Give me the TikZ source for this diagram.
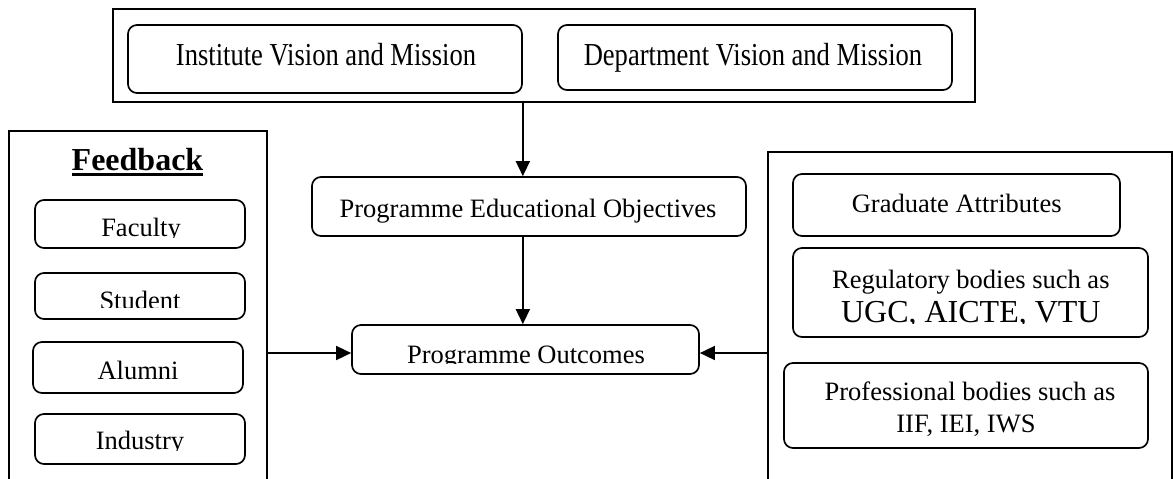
\documentclass[tikz,border=0pt]{standalone}
\usepackage{fontspec}
\setmainfont{Liberation Serif}
\usepackage{graphicx}
\usetikzlibrary{arrows.meta}
\tikzset{
  frame/.style={draw, line width=1.8pt, inner sep=0pt},
  rbox/.style={draw, line width=1.7pt, rounded corners=9pt, inner sep=0pt},
  txt/.style={inner sep=0pt, anchor=base, font=\fontsize{26.5}{32}\selectfont},
  bigtxt/.style={inner sep=0pt, anchor=base, font=\fontsize{32}{38}\selectfont},
  boldtxt/.style={inner sep=0pt, anchor=base, font=\fontsize{32}{38}\selectfont\bfseries},
  arr/.style={line width=1.6pt, -{Triangle[length=15pt,width=14pt]}},
}
\begin{document}
\begin{tikzpicture}[x=1pt,y=-1pt]
\clip (0,0) rectangle (1173,479);
\fill[white] (0,0) rectangle (1173,479);

% top frame
\node[frame, minimum width=862pt, minimum height=93pt] (topframe) at (544,55.5) {};
\node[rbox, minimum width=394pt, minimum height=68pt] (inst) at (325,59) {};
\node[rbox, minimum width=394pt, minimum height=65pt] (dept) at (755,57.5) {};
\node[bigtxt] (inst-t) at (326,65) {\scalebox{0.83}[1]{Institute Vision and Mission}};
\node[bigtxt] (dept-t) at (753,65) {\scalebox{0.83}[1]{Department Vision and Mission}};

% central boxes
\node[rbox, minimum width=434pt, minimum height=59pt] (peo) at (529,206.5) {};
\node[txt] (peo-t) at (528,217) {Programme Educational Objectives};
\node[rbox, minimum width=347pt, minimum height=49pt] (po) at (525.5,349.5) {};
\begin{scope}
  \clip (300,363.5) rectangle (750,320);
  \node[txt] (po-t) at (526,363) {Programme Outcomes};
\end{scope}

% left frame
\node[frame, minimum width=258pt, minimum height=369pt] (leftframe) at (138,315.5) {};
\node[boldtxt] (fb) at (137.5,170) {Feedback};
\draw[line width=2.2pt] ([yshift=-4.5pt]fb.base west) -- ([yshift=-4.5pt]fb.base east);

\node[rbox, minimum width=210pt, minimum height=48pt] (fac) at (140,224) {};
\begin{scope}
  \clip (30,237.5) rectangle (250,200);
  \node[txt] (fac-t) at (141,236) {Faculty};
\end{scope}
\node[rbox, minimum width=210pt, minimum height=46pt] (stu) at (140,296) {};
\begin{scope}
  \clip (30,307) rectangle (250,273);
  \node[txt] (stu-t) at (140,309) {Student};
\end{scope}
\node[rbox, minimum width=210pt, minimum height=51pt] (alu) at (138,367.5) {};
\node[txt] (alu-t) at (138,379) {Alumni};
\node[rbox, minimum width=210pt, minimum height=50pt] (ind) at (140,439) {};
\begin{scope}
  \clip (30,450.5) rectangle (250,414);
  \node[txt] (ind-t) at (140,449) {Industry};
\end{scope}

% right frame
\node[frame, minimum width=404pt, minimum height=348pt] (rightframe) at (970,326) {};
\node[rbox, minimum width=327pt, minimum height=62pt] (grad) at (956.5,205) {};
\node[txt] (grad-t) at (956.7,212) {Graduate Attributes};
\node[rbox, minimum width=355pt, minimum height=89pt] (reg) at (970.5,292.5) {};
\node[txt] (reg-t1) at (970.8,288) {Regulatory bodies such as};
\begin{scope}
  \clip (790,323) rectangle (1150,290);
  \node[bigtxt] (reg-t2) at (970.8,322) {UGC, AICTE, VTU};
\end{scope}
\node[rbox, minimum width=364pt, minimum height=85pt] (prof) at (966,405.5) {};
\node[txt] (prof-t1) at (970,400) {Professional bodies such as};
\node[txt] (prof-t2) at (966,432) {IIF, IEI, IWS};

% connectors
\draw[arr] (topframe.south -| inst.east) -- (peo.north -| inst.east);
\draw[arr] (peo.south -| inst.east) -- (po.north -| inst.east);
\coordinate (poL) at ([yshift=-3.5pt]po.west);
\coordinate (poR) at ([yshift=-3.5pt]po.east);
\draw[arr] (poL -| leftframe.east) -- (poL);
\draw[arr] (poR -| rightframe.west) -- (poR);
\end{tikzpicture}
\end{document}
